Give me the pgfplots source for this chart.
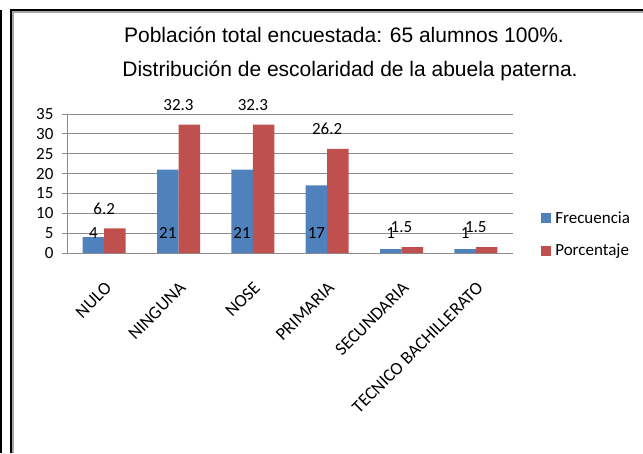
\documentclass[border=0pt]{standalone}
\usepackage{pgfplots}
\pgfplotsset{compat=1.18}
\usepackage{fontspec}
\setmainfont{Carlito}
\newfontfamily\titlefont{Liberation Sans}
\definecolor{cblue}{HTML}{4F81BD}
\definecolor{cred}{HTML}{C0504D}
\definecolor{gridc}{HTML}{8C8C8C}
\newcommand\lab{\fontsize{17}{20}\selectfont}
\newcommand\xlab{\fontsize{18}{20}\selectfont}
\begin{document}
\begin{tikzpicture}[x=1pt,y=1pt]
\path[use as bounding box] (0,0) rectangle (643,453);
\draw[black, line width=2pt] (1,0) -- (1,443);
\draw[black, line width=2pt] (11,0) -- (11,443) -- (643,443);
\draw[black!35, line width=2pt] (13,0) -- (13,441) -- (643,441);
\node[font=\titlefont\fontsize{21}{24}\selectfont, anchor=base] at (344,410) {Población total encuestada: 65 alumnos 100\%.};
\node[font=\titlefont\fontsize{21}{24}\selectfont, anchor=base] at (350,376) {Distribución de escolaridad de la abuela paterna.};
\begin{axis}[
  scale only axis, width=446pt, height=139pt, at={(67pt,200pt)}, anchor=south west,
  xmin=-0.5, xmax=5.5, ymin=0, ymax=35,
  ytick={0,5,...,35},
  ymajorgrids, grid style={gridc, line width=0.8pt},
  axis x line*=bottom, axis y line*=left,
  axis line style={gridc, line width=0.8pt},
  tick align=outside,
  xtick={0,...,5},
  xticklabels={NULO, NINGUNA, NOSE, PRIMARIA, SECUNDARIA, TECNICO BACHILLERATO},
  major x tick style={draw=none},
  extra x ticks={-0.5,0.5,1.5,2.5,3.5,4.5,5.5},
  extra x tick labels={},
  extra x tick style={major tick length=6pt, tick style={draw=gridc, line width=0.8pt}},
  major tick length=5pt,
  y tick style={draw=gridc, line width=0.8pt},
  ticklabel style={font=\lab},
  yticklabel style={xshift=-5pt},
  xticklabel style={xshift=0pt, yshift=-18pt, rotate=45, anchor=north east, font=\xlab},
  /pgf/number format/assume math mode=true,
  legend style={at={(1.063,0.133)}, anchor=west, draw=none, fill=none, font=\lab,
    row sep=19pt, inner sep=0pt, nodes={inner xsep=4pt, inner ysep=0pt}, legend cell align=left},
  legend image code/.code={\fill[#1, draw=none] (0pt,-5pt) rectangle (10pt,5pt);},
]
\addplot[ybar, bar width=21.5pt, bar shift=-10.75pt, fill=cblue, draw=none]
  coordinates {(0,4) (1,21) (2,21) (3,17) (4,1) (5,1)};
\addlegendentry{Frecuencia}
\addplot[ybar, bar width=21.5pt, bar shift=10.75pt, fill=cred, draw=none,
  nodes near coords, every node near coord/.append style={font=\lab, anchor=center, yshift=20pt}]
  coordinates {(0,6.2) (1,32.3) (2,32.3) (3,26.2) (4,1.5) (5,1.5)};
\addlegendentry{Porcentaje}
\addplot[forget plot, draw=none, mark=none, nodes near coords, point meta=explicit symbolic,
  every node near coord/.append style={font=\lab, anchor=center, xshift=-10.75pt}]
  coordinates {(0,5)[4] (1,5)[21] (2,5)[21] (3,5)[17] (4,5)[1] (5,5)[1]};
\end{axis}
\end{tikzpicture}
\end{document}
